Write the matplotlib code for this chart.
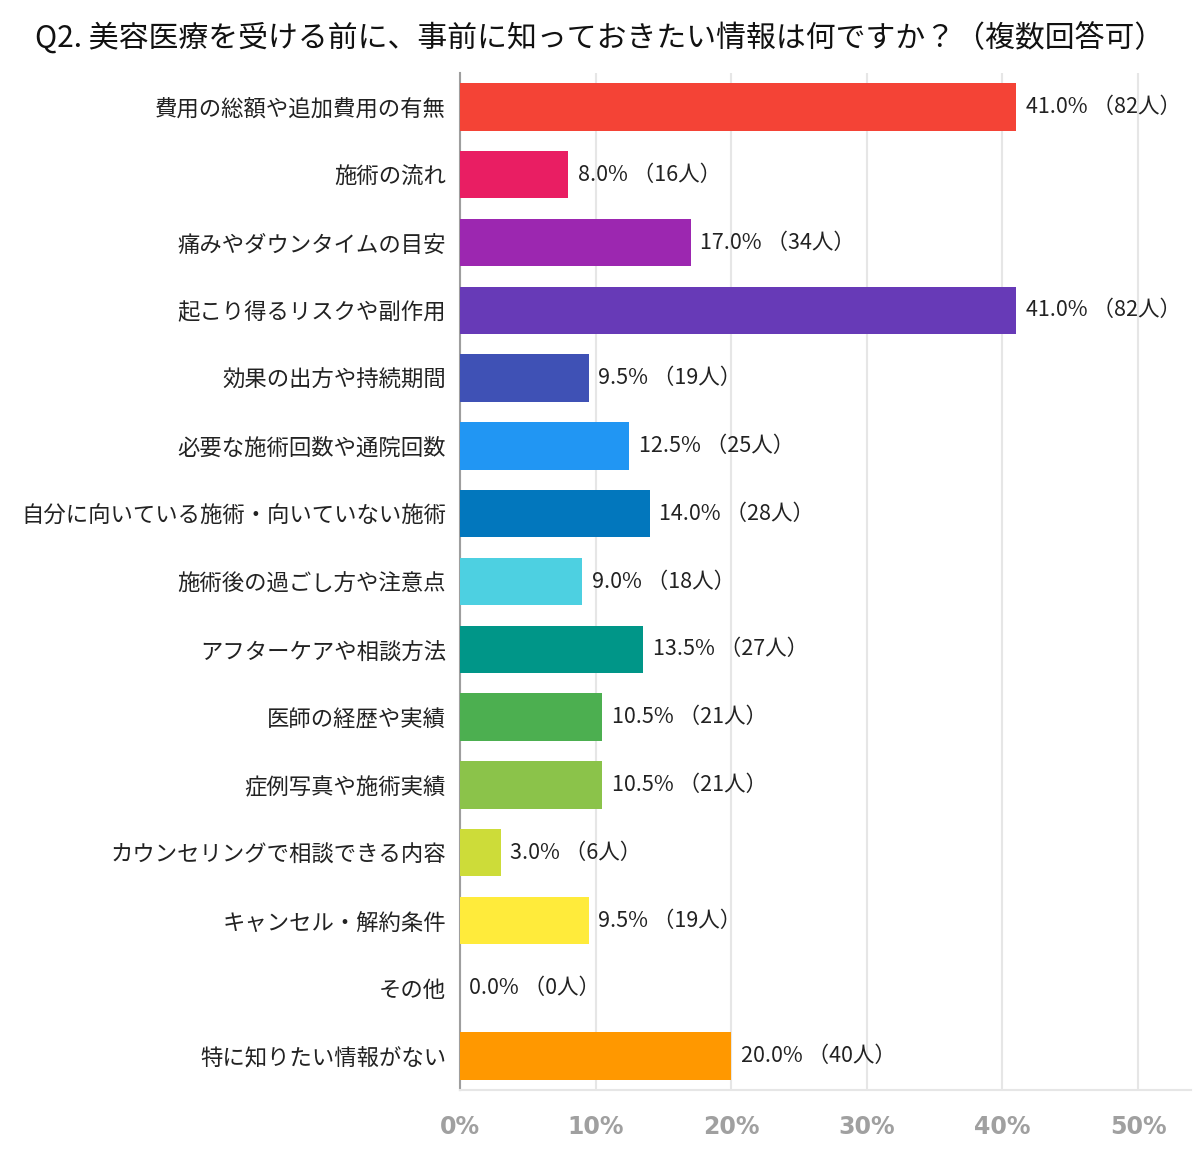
import matplotlib.pyplot as plt

plt.rcParams["font.family"] = ["Noto Sans CJK JP", "DejaVu Sans"]

# --------------------------------------------------
# DATA
# --------------------------------------------------

title = "Q2. 美容医療を受ける前に、事前に知っておきたい情報は何ですか？（複数回答可）"

categories = [
    "費用の総額や追加費用の有無",
    "施術の流れ",
    "痛みやダウンタイムの目安",
    "起こり得るリスクや副作用",
    "効果の出方や持続期間",
    "必要な施術回数や通院回数",
    "自分に向いている施術・向いていない施術",
    "施術後の過ごし方や注意点",
    "アフターケアや相談方法",
    "医師の経歴や実績",
    "症例写真や施術実績",
    "カウンセリングで相談できる内容",
    "キャンセル・解約条件",
    "その他",
    "特に知りたい情報がない",
]
percents = [41.0, 8.0, 17.0, 41.0, 9.5, 12.5, 14.0, 9.0, 13.5, 10.5, 10.5, 3.0, 9.5, 0.0, 20.0]
counts = [82, 16, 34, 82, 19, 25, 28, 18, 27, 21, 21, 6, 19, 0, 40]
colors = [
    "#F44336", "#E91E63", "#9C27B0", "#673AB7", "#3F51B5",
    "#2196F3", "#0277BD", "#4DD0E1", "#009688", "#4CAF50",
    "#8BC34A", "#CDDC39", "#FFEB3B", "#BDBDBD", "#FF9800",
]
xticks = [0, 10, 20, 30, 40, 50]

# --------------------------------------------------
# PLOT
# --------------------------------------------------

fig = plt.figure(figsize=(12, 11.62), dpi=100)
ax = fig.add_axes([0.3833, 0.062, 0.6092, 0.8752])

y = range(len(categories))
ax.barh(y, percents, height=0.70, color=colors, zorder=3)

for i, (p, c) in enumerate(zip(percents, counts)):
    ax.text(p + 0.7, i, f"{p:.1f}% （{c}人）", va="center", ha="left",
            fontsize=15.5, color="#222222", zorder=4)

ax.set_ylim(len(categories) - 0.5, -0.5)
ax.set_xlim(0, 53.9)
ax.set_yticks(list(y))
ax.set_yticklabels(categories, fontsize=16.1, color="#222222")
ax.tick_params(axis="y", length=0, pad=10)

ax.set_xticks(xticks)
ax.set_xticklabels([f"{t}%" for t in xticks], fontsize=17, fontweight="bold",
                   color="#a0a0a0", family=["DejaVu Sans"])
ax.tick_params(axis="x", length=0, pad=18)

ax.grid(axis="x", color="#e6e6e6", linewidth=1.5, zorder=0)
for side in ["top", "right"]:
    ax.spines[side].set_visible(False)
ax.spines["left"].set_color("#9e9e9e")
ax.spines["left"].set_linewidth(1.5)
ax.spines["bottom"].set_color("#e6e6e6")
ax.spines["bottom"].set_linewidth(1.5)

fig.text(0.5, 0.967, title, ha="center", va="center", fontsize=21.5, color="#111111")

plt.savefig("out.png", dpi=100)
